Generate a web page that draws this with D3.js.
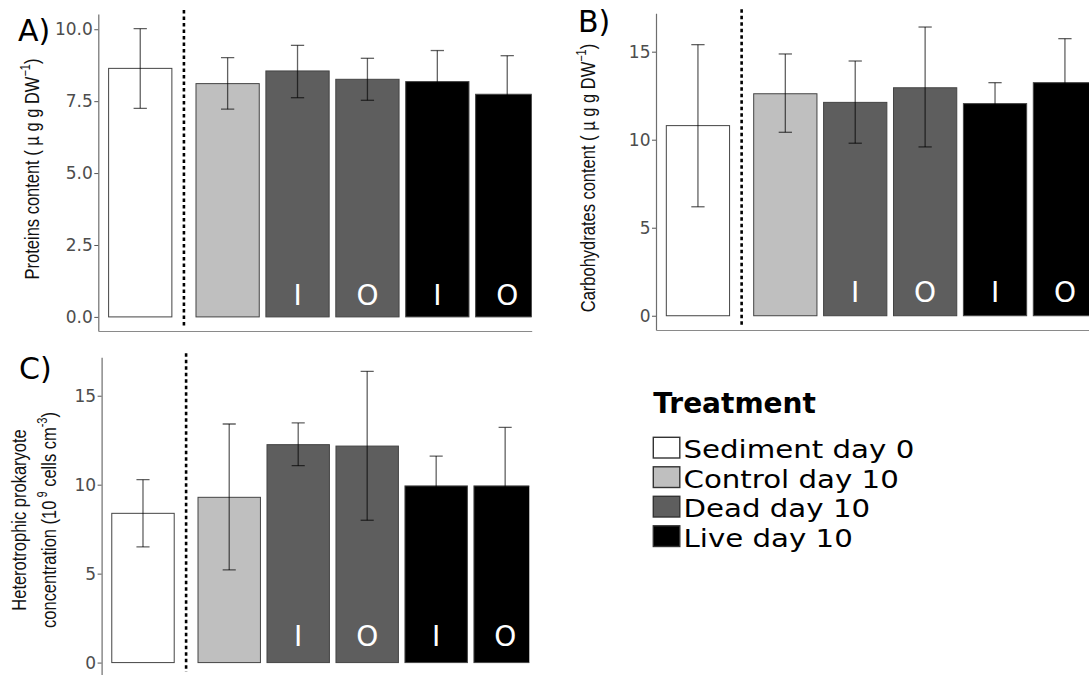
<!DOCTYPE html>
<html>
<head>
<meta charset="utf-8">
<script src="https://cdn.jsdelivr.net/npm/d3@7"></script>
<style>
  body { margin: 0; background: #fff; }
  svg { display: block; }
</style>
</head>
<body>
<svg id="chart" width="1089" height="675"></svg>
<script>
// Bars, left to right, in every panel
const treatments = ['Sediment day 0', 'Control day 10', 'Dead day 10', 'Dead day 10', 'Live day 10', 'Live day 10'];
const sides = ['', '', 'I', 'O', 'I', 'O'];
const legendTitle = 'Treatment';

// A) proteins
const proteinMean = [8.64, 8.11, 8.55, 8.26, 8.18, 7.74];
const proteinLow  = [7.25, 7.22, 7.62, 7.53, 7.10, 6.40];
const proteinHigh = [10.02, 9.01, 9.44, 8.99, 9.26, 9.08];
const proteinTicks = [0, 2.5, 5, 7.5, 10];

// B) carbohydrates
const carbMean = [10.80, 12.61, 12.12, 12.95, 12.05, 13.24];
const carbLow  = [6.19, 10.42, 9.80, 9.59, 10.86, 10.74];
const carbHigh = [15.40, 14.87, 14.47, 16.40, 13.24, 15.74];
const carbTicks = [0, 5, 10, 15];

// C) heterotrophic prokaryotes
const prokMean = [8.39, 9.29, 12.25, 12.17, 9.93, 9.93];
const prokLow  = [6.50, 5.21, 11.07, 8.00, 8.25, 6.64];
const prokHigh = [10.28, 13.41, 13.47, 16.37, 11.61, 13.22];
const prokTicks = [0, 5, 10, 15];

const fills = d3.scaleOrdinal()
  .domain(['Sediment day 0', 'Control day 10', 'Dead day 10', 'Live day 10'])
  .range(['#ffffff', '#bfbfbf', '#5e5e5e', '#000000']);

// sediment bar sits a little apart from the day-10 bars
const groupGap = 0.25;
const barWidth = 0.905;
const capWidth = 0.19;
const slot = i => i + 1 + (i > 0 ? groupGap : 0);

const tickFont = 'DejaVu Sans, sans-serif';
const titleFont = 'Liberation Sans, Arial, sans-serif';
// the source figure is a bit wider than it is tall, so text looks stretched
const stretch = 1.17;

const panels = [
  { tag: 'A)', mean: proteinMean, low: proteinLow, high: proteinHigh,
    ticks: proteinTicks, fmt: d3.format('.1f'), yDomain: [-0.49, 10.53],
    left: 98.3, right: 531.7, top: 14, bottom: 331,
    tagX: 18, tagY: 41, sideOffset: 12,
    titleX: [38.5], titleY: 169,
    title: [[{ t: 'Proteins content ( \u00b5 g g DW' }, { t: '\u22121', sup: true }, { t: ')' }]] },
  { tag: 'B)', mean: carbMean, low: carbLow, high: carbHigh,
    ticks: carbTicks, fmt: d3.format('d'), yDomain: [-0.81, 17.18],
    left: 656, right: 1089.4, top: 13.3, bottom: 330,
    tagX: 578, tagY: 32, sideOffset: 14,
    titleX: [595], titleY: 178,
    title: [[{ t: 'Carbohydrates content ( \u00b5 g g DW' }, { t: '\u22121', sup: true }, { t: ')' }]] },
  { tag: 'C)', mean: prokMean, low: prokLow, high: prokHigh,
    ticks: prokTicks, fmt: d3.format('d'), yDomain: [-0.81, 17.16],
    left: 101.6, right: 529.3, top: 357.3, bottom: 677,
    tagX: 19, tagY: 379, sideOffset: 16.5,
    titleX: [26.4, 56.2], titleY: 520,
    title: [[{ t: 'Heterotrophic prokaryote' }],
            [{ t: 'concentration (10' }, { t: ' 9', sup: true }, { t: ' cells cm' }, { t: '-3', sup: true }, { t: ')' }]] }
];

const svg = d3.select('#chart');
svg.append('rect').attr('width', 1089).attr('height', 675).attr('fill', '#fff');

panels.forEach((p, k) => {
  const x = d3.scaleLinear().domain([0.4, 6.6]).range([p.left, p.right]);
  const y = d3.scaleLinear().domain(p.yDomain).range([p.bottom, p.top]);
  const rows = treatments.map((t, i) => ({
    treatment: t, side: sides[i], pos: slot(i),
    mean: p.mean[i], low: p.low[i], high: p.high[i]
  }));

  const clipId = 'clip' + k;
  svg.append('clipPath').attr('id', clipId)
    .append('rect')
    .attr('x', p.left).attr('y', p.top - 20)
    .attr('width', p.right - p.left).attr('height', p.bottom - p.top + 20);

  const g = svg.append('g').attr('clip-path', `url(#${clipId})`);
  const bw = x(barWidth) - x(0);
  const cw = x(capWidth) - x(0);

  // bars
  g.selectAll('rect.bar')
    .data(rows)
    .enter()
    .append('rect')
    .attr('class', 'bar')
    .attr('x', d => x(d.pos) - bw / 2)
    .attr('width', bw)
    .attr('y', d => y(d.mean))
    .attr('height', d => y(0) - y(d.mean))
    .attr('fill', d => fills(d.treatment))
    .attr('stroke', '#444')
    .attr('stroke-width', 1);

  // error bars
  const err = g.selectAll('g.err')
    .data(rows)
    .enter()
    .append('g')
    .attr('class', 'err')
    .attr('stroke', '#000')
    .attr('stroke-opacity', 0.62)
    .attr('stroke-width', 1.3);
  err.append('line')
    .attr('x1', d => x(d.pos)).attr('x2', d => x(d.pos))
    .attr('y1', d => y(d.low)).attr('y2', d => y(d.high));
  err.append('line')
    .attr('x1', d => x(d.pos) - cw / 2).attr('x2', d => x(d.pos) + cw / 2)
    .attr('y1', d => y(d.high)).attr('y2', d => y(d.high));
  err.append('line')
    .attr('x1', d => x(d.pos) - cw / 2).attr('x2', d => x(d.pos) + cw / 2)
    .attr('y1', d => y(d.low)).attr('y2', d => y(d.low));

  // I / O labels inside the bars
  g.selectAll('text.side')
    .data(rows.filter(d => d.side))
    .enter()
    .append('text')
    .attr('x', d => x(d.pos))
    .attr('y', y(0) - p.sideOffset)
    .attr('text-anchor', 'middle')
    .attr('fill', '#fff')
    .style('font-family', tickFont)
    .style('font-size', '28px')
    .text(d => d.side);

  // dashed separator between sediment and day-10 bars
  const sep = x((slot(0) + slot(1)) / 2);
  svg.append('line')
    .attr('x1', sep).attr('x2', sep)
    .attr('y1', p.top - 4).attr('y2', p.bottom - 5)
    .attr('stroke', '#000')
    .attr('stroke-width', 2.6)
    .attr('stroke-dasharray', '3.5,3');

  // axes
  const yAxis = svg.append('g')
    .attr('transform', `translate(${p.left},0)`)
    .call(d3.axisLeft(y).tickValues(p.ticks).tickFormat(p.fmt)
      .tickSize(4).tickSizeOuter(0).tickPadding(1.5));
  yAxis.select('.domain').attr('stroke', '#6e6e6e').attr('stroke-width', 1.2);
  yAxis.selectAll('.tick line').attr('stroke', '#555');
  yAxis.selectAll('.tick text')
    .attr('fill', '#4d4d4d')
    .style('font-family', tickFont)
    .style('font-size', '17px');

  const xAxis = svg.append('g')
    .attr('transform', `translate(0,${p.bottom})`)
    .call(d3.axisBottom(x).tickValues([]).tickSizeOuter(0));
  xAxis.select('.domain').attr('stroke', '#8a8a8a').attr('stroke-width', 1.2);

  // panel tag
  svg.append('text')
    .attr('x', p.tagX).attr('y', p.tagY)
    .style('font-family', tickFont)
    .style('font-size', '30px')
    .attr('fill', '#000')
    .text(p.tag);

  // rotated y title, one text per line, superscripts as raised tspans
  p.title.forEach((line, li) => {
    const t = svg.append('text')
      .attr('transform', `translate(${p.titleX[li]},${p.titleY}) scale(1.25,1) rotate(-90)`)
      .attr('text-anchor', 'middle')
      .attr('fill', '#111')
      .style('font-family', titleFont)
      .style('font-size', '16.5px');
    let raised = false;
    line.forEach(seg => {
      const s = t.append('tspan').text(seg.t);
      if (seg.sup && !raised) { s.attr('dy', -7).style('font-size', '11px'); raised = true; }
      else if (!seg.sup && raised) { s.attr('dy', 7); raised = false; }
    });
  });
});

// legend
const legend = svg.append('g').attr('transform', 'translate(653.3,0)');
legend.append('text')
  .attr('x', 0).attr('y', 413.3)
  .style('font-family', tickFont)
  .style('font-size', '28px')
  .style('font-weight', 'bold')
  .text(legendTitle);

const items = legend.selectAll('g.item')
  .data(fills.domain())
  .enter()
  .append('g')
  .attr('transform', (d, i) => `translate(0,${437.3 + i * 29.5})`);
items.append('rect')
  .attr('width', 26.5).attr('height', 20.7)
  .attr('fill', d => fills(d))
  .attr('stroke', '#333')
  .attr('stroke-width', 1.4);
items.append('text')
  .attr('x', 30.2).attr('y', 20.8)
  .style('font-family', tickFont)
  .style('font-size', '25px')
  .text(d => d)
  .each(function () {
    // widen the glyphs instead of using a taller font, so lines don't collide
    const w = this.getComputedTextLength();
    d3.select(this).attr('textLength', w * stretch).attr('lengthAdjust', 'spacingAndGlyphs');
  });
</script>
</body>
</html>
